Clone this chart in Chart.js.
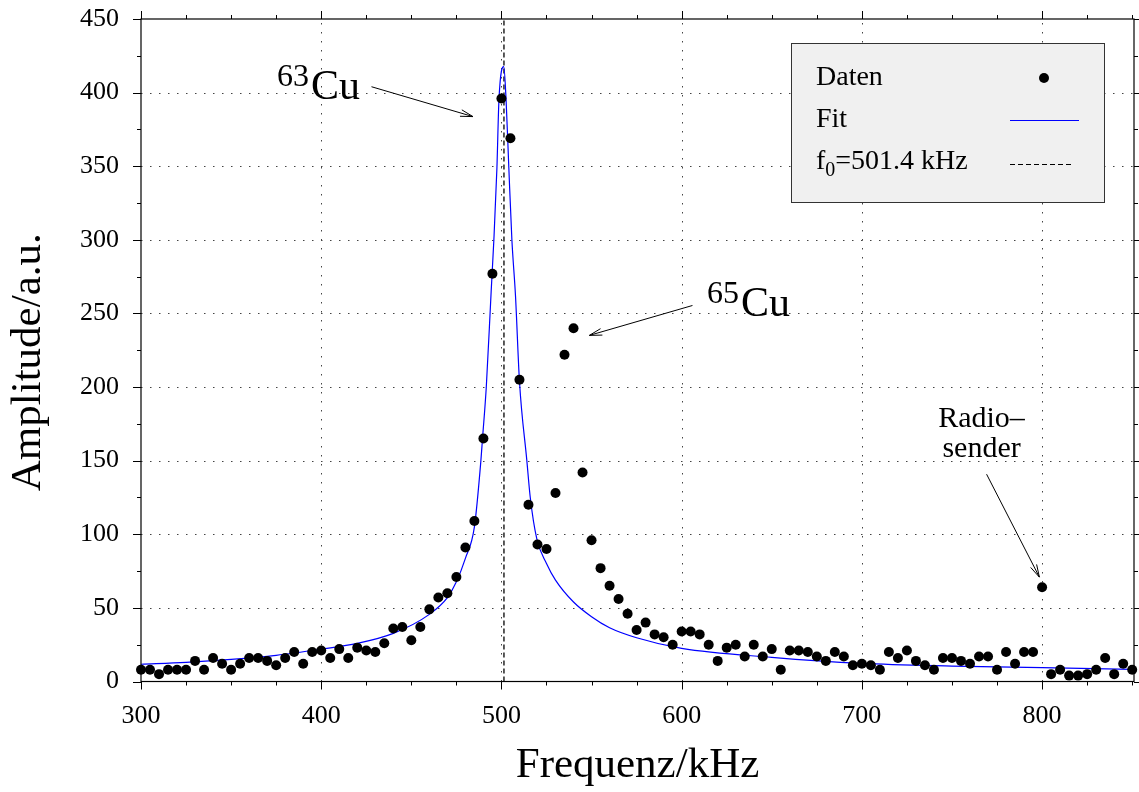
<!DOCTYPE html>
<html>
<head>
<meta charset="utf-8">
<script src="https://cdn.jsdelivr.net/npm/chart.js@4.4.0/dist/chart.umd.min.js"></script>
<style>
  html, body { margin: 0; padding: 0; background: #fff; }
</style>
</head>
<body>
<canvas id="chart" width="1139" height="792"></canvas>
<script>
// Measured amplitudes (every 5 kHz)
const frequencies = [
    300, 305, 310, 315, 320, 325, 330, 335, 340, 345, 350, 355, 360, 365, 370, 375, 380, 385, 390, 395,
    400, 405, 410, 415, 420, 425, 430, 435, 440, 445, 450, 455, 460, 465, 470, 475, 480, 485, 490, 495,
    500, 505, 510, 515, 520, 525, 530, 535, 540, 545, 550, 555, 560, 565, 570, 575, 580, 585, 590, 595,
    600, 605, 610, 615, 620, 625, 630, 635, 640, 645, 650, 655, 660, 665, 670, 675, 680, 685, 690, 695,
    700, 705, 710, 715, 720, 725, 730, 735, 740, 745, 750, 755, 760, 765, 770, 775, 780, 785, 790, 795,
    800, 805, 810, 815, 820, 825, 830, 835, 840, 845, 850
];
const amplitudes = [
    8, 8, 5, 8, 8, 8, 14, 8, 16, 12, 8, 12, 16, 16, 14, 11, 16, 20, 12, 20,
    21, 16, 22, 16, 23, 21, 20, 26, 36, 37, 28, 37, 49, 57, 60, 71, 91, 109, 165, 277,
    396, 369, 205, 120, 93, 90, 128, 222, 240, 142, 96, 77, 65, 56, 46, 35, 40, 32, 30, 25,
    34, 34, 32, 25, 14, 23, 25, 17, 25, 17, 22, 8, 21, 21, 20, 17, 14, 20, 17, 11,
    12, 11, 8, 20, 16, 21, 14, 11, 8, 16, 16, 14, 12, 17, 17, 8, 20, 12, 20, 20,
    64, 5, 8, 4, 4, 5, 8, 16, 5, 12, 8
];

// Fit curve
const fitFreq = [300, 325, 350, 375, 400, 420, 440, 460, 470, 475, 480, 485, 488.6, 489.5, 491.6, 494.3, 495.8,
    497.5, 498.6, 501.3, 502.6, 504.1, 505.8, 507.8, 510, 514.1, 516, 519.6, 525, 530, 540, 550, 560, 575,
    600, 650, 700, 750, 800, 850];
const fitAmp = [11.7, 13, 15, 17.8, 22, 25.9, 32.7, 45.6, 57, 67.7, 83.6, 105, 150, 165, 200, 265, 300,
    349, 394.5, 417.6, 394.5, 349, 300, 262, 204, 150, 125, 97, 80.2, 68.9, 54, 44, 36.5, 29.7,
    22.5, 16.4, 12.3, 10.5, 9.4, 8.3];

const f0 = 501.4;

// Axis ticks
const xTicks = [300, 400, 500, 600, 700, 800];
const yTicks = [0, 50, 100, 150, 200, 250, 300, 350, 400, 450];
const xMinorTicks = [300, 325, 350, 375, 400, 425, 450, 475, 500, 525, 550, 575, 600, 625, 650, 675,
    700, 725, 750, 775, 800, 825, 850];
const yMinorTicks = [0, 25, 50, 75, 100, 125, 150, 175, 200, 225, 250, 275, 300, 325, 350, 375, 400, 425, 450];

const FONT = "'Liberation Serif', 'Times New Roman', serif";
const yTitle = 'Amplitude/a.u.';

// Annotations (data coordinates)
const isotopeLabels = [
    { sup: '63', main: 'Cu', x: 375.5, y: 395.8, arrowFrom: [427.9, 404], arrowTo: [484.2, 383.7] },
    { sup: '65', main: 'Cu', x: 614.1, y: 248.6, arrowFrom: [606, 255.4], arrowTo: [548.8, 235.1] }
];
const radioLabel = { lines: ['Radio\u2013', 'sender'], x: 766.4, y: [172.7, 152.3], arrowFrom: [769.2, 140.8], arrowTo: [798.5, 70.9] };

function drawArrow(ctx, x1, y1, x2, y2) {
    ctx.beginPath();
    ctx.moveTo(x1, y1);
    ctx.lineTo(x2, y2);
    const ang = Math.atan2(y2 - y1, x2 - x1);
    const len = 13, spread = 0.26;
    ctx.moveTo(x2 - len * Math.cos(ang - spread), y2 - len * Math.sin(ang - spread));
    ctx.lineTo(x2, y2);
    ctx.lineTo(x2 - len * Math.cos(ang + spread), y2 - len * Math.sin(ang + spread));
    ctx.stroke();
}

const framePlugin = {
    id: 'frame',
    beforeDatasetsDraw(chart) {
        const { ctx, chartArea: a, scales: { x, y } } = chart;
        ctx.save();
        ctx.strokeStyle = '#444';
        ctx.lineWidth = 1;
        ctx.setLineDash([1.5, 7.5]);
        xTicks.forEach(v => {
            if (v <= x.min || v >= x.max) return;
            const px = Math.round(x.getPixelForValue(v)) + 0.5;
            ctx.beginPath(); ctx.moveTo(px, a.bottom); ctx.lineTo(px, a.top); ctx.stroke();
        });
        yTicks.forEach(v => {
            if (v <= y.min || v >= y.max) return;
            const py = Math.round(y.getPixelForValue(v)) + 0.5;
            ctx.beginPath(); ctx.moveTo(a.left, py); ctx.lineTo(a.right, py); ctx.stroke();
        });
        ctx.restore();
    },
    afterDatasetsDraw(chart) {
        const { ctx, chartArea: a, scales: { x, y } } = chart;
        ctx.save();
        // frame
        ctx.strokeStyle = '#000';
        ctx.lineWidth = 1.2;
        ctx.strokeRect(a.left, a.top, a.right - a.left, a.bottom - a.top);

        // outward ticks on all sides
        ctx.lineWidth = 1;
        ctx.beginPath();
        xMinorTicks.forEach(v => {
            const px = Math.round(x.getPixelForValue(v)) + 0.5;
            const len = xTicks.includes(v) ? 8 : 4;
            ctx.moveTo(px, a.bottom); ctx.lineTo(px, a.bottom + len);
            ctx.moveTo(px, a.top); ctx.lineTo(px, a.top - len);
        });
        yMinorTicks.forEach(v => {
            const py = Math.round(y.getPixelForValue(v)) + 0.5;
            const len = yTicks.includes(v) ? 8 : 4;
            ctx.moveTo(a.left, py); ctx.lineTo(a.left - len, py);
            ctx.moveTo(a.right, py); ctx.lineTo(a.right + len, py);
        });
        ctx.stroke();

        // y axis title (sits a little below the axis centre in the original)
        ctx.fillStyle = '#000';
        ctx.save();
        ctx.translate(29, (a.top + a.bottom) / 2 + 12);
        ctx.rotate(-Math.PI / 2);
        ctx.font = '43px ' + FONT;
        ctx.textAlign = 'center';
        ctx.textBaseline = 'middle';
        ctx.fillText(yTitle, 0, 0);
        ctx.restore();

        // isotope labels with arrows
        ctx.textBaseline = 'alphabetic';
        ctx.textAlign = 'left';
        isotopeLabels.forEach(l => {
            const px = x.getPixelForValue(l.x);
            const py = y.getPixelForValue(l.y);
            ctx.font = '32px ' + FONT;
            ctx.fillText(l.sup, px, py - 13);
            const w = ctx.measureText(l.sup).width;
            ctx.font = '42px ' + FONT;
            ctx.fillText(l.main, px + w + 2, py);
            drawArrow(ctx, x.getPixelForValue(l.arrowFrom[0]), y.getPixelForValue(l.arrowFrom[1]),
                x.getPixelForValue(l.arrowTo[0]), y.getPixelForValue(l.arrowTo[1]));
        });

        // radio transmitter label
        ctx.font = '30px ' + FONT;
        ctx.textAlign = 'center';
        radioLabel.lines.forEach((t, i) => {
            ctx.fillText(t, x.getPixelForValue(radioLabel.x), y.getPixelForValue(radioLabel.y[i]));
        });
        drawArrow(ctx, x.getPixelForValue(radioLabel.arrowFrom[0]), y.getPixelForValue(radioLabel.arrowFrom[1]),
            x.getPixelForValue(radioLabel.arrowTo[0]), y.getPixelForValue(radioLabel.arrowTo[1]));

        // legend box
        const bx = a.right - 343, by = a.top + 24, bw = 313, bh = 159;
        ctx.fillStyle = '#f0f0f0';
        ctx.fillRect(bx, by, bw, bh);
        ctx.strokeStyle = '#333';
        ctx.lineWidth = 1;
        ctx.strokeRect(bx + 0.5, by + 0.5, bw, bh);

        ctx.fillStyle = '#000';
        ctx.textAlign = 'left';
        ctx.textBaseline = 'middle';
        ctx.font = '28px ' + FONT;
        const tx = bx + 25;
        const rows = [by + 35, by + 77, by + 119];
        ctx.fillText(chart.data.datasets[0].label, tx, rows[0]);
        ctx.fillText(chart.data.datasets[1].label, tx, rows[1]);
        ctx.fillText('f', tx, rows[2]);
        const fw = ctx.measureText('f').width;
        ctx.font = '20px ' + FONT;
        ctx.fillText('0', tx + fw, rows[2] + 9);
        const zw = ctx.measureText('0').width;
        ctx.font = '28px ' + FONT;
        ctx.fillText('=' + f0 + ' kHz', tx + fw + zw, rows[2]);

        // legend symbols
        ctx.beginPath();
        ctx.arc(bx + 253, rows[0], 5, 0, Math.PI * 2);
        ctx.fill();
        ctx.strokeStyle = '#0000ff';
        ctx.lineWidth = 1.2;
        ctx.beginPath();
        ctx.moveTo(bx + 219, rows[1] + 0.5); ctx.lineTo(bx + 288, rows[1] + 0.5);
        ctx.stroke();
        ctx.strokeStyle = '#000';
        ctx.setLineDash([5, 3]);
        ctx.beginPath();
        ctx.moveTo(bx + 219, rows[2] + 2.5); ctx.lineTo(bx + 282, rows[2] + 2.5);
        ctx.stroke();
        ctx.restore();
    }
};

new Chart(document.getElementById('chart'), {
    type: 'scatter',
    data: {
        datasets: [{
            label: 'Daten',
            data: frequencies.map((f, i) => ({ x: f, y: amplitudes[i] })),
            pointRadius: 5,
            pointBackgroundColor: '#000',
            pointBorderWidth: 0,
            showLine: false,
            clip: false,
            order: 0
        }, {
            label: 'Fit',
            data: fitFreq.map((f, i) => ({ x: f, y: fitAmp[i] })),
            showLine: true,
            borderColor: '#0000ff',
            borderWidth: 1.2,
            pointRadius: 0,
            cubicInterpolationMode: 'monotone',
            order: 1
        }, {
            label: 'f0',
            data: [{ x: f0, y: 0 }, { x: f0, y: 450 }],
            showLine: true,
            borderColor: '#000',
            borderWidth: 1.3,
            borderDash: [5, 3],
            pointRadius: 0,
            order: 2
        }]
    },
    options: {
        responsive: false,
        animation: false,
        devicePixelRatio: 1,
        layout: { padding: { top: 19, right: 4, left: 0, bottom: 0 } },
        plugins: {
            legend: { display: false },
            tooltip: { enabled: false }
        },
        scales: {
            x: {
                type: 'linear',
                min: 300,
                max: 851,
                afterBuildTicks: s => { s.ticks = xTicks.map(v => ({ value: v })); },
                afterFit: s => { s.height = 110.5; s.paddingLeft = 0; s.paddingRight = 0; },
                grid: { display: false, drawTicks: false },
                border: { display: false },
                ticks: { font: { family: FONT, size: 26 }, color: '#000', padding: 19, maxRotation: 0 },
                title: { display: true, text: 'Frequenz/kHz', font: { family: FONT, size: 43 }, color: '#000', padding: { top: 0, bottom: 0 } }
            },
            y: {
                min: 0,
                max: 450,
                afterBuildTicks: s => { s.ticks = yTicks.map(v => ({ value: v })); },
                afterFit: s => { s.width = 141; s.paddingTop = 0; s.paddingBottom = 0; },
                grid: { display: false, drawTicks: false },
                border: { display: false },
                ticks: { font: { family: FONT, size: 26 }, color: '#000', padding: 22 },
                title: { display: false }
            }
        }
    },
    plugins: [framePlugin]
});
</script>
</body>
</html>
